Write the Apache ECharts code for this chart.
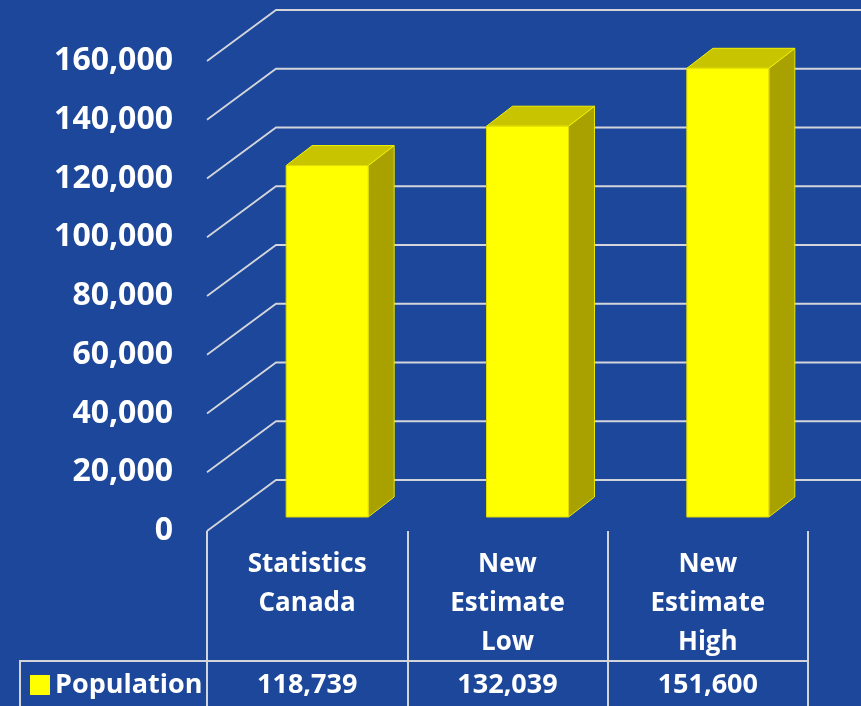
<!DOCTYPE html>
<html>
<head>
<meta charset="utf-8">
<script src="https://cdn.jsdelivr.net/npm/echarts@6/dist/echarts.min.js"></script>
<style>
  html, body { margin: 0; padding: 0; background: #1C479A; }
  #main { width: 861px; height: 706px; }
</style>
</head>
<body>
<div id="main"></div>
<script>
const categories = ['Statistics\nCanada', 'New\nEstimate\nLow', 'New\nEstimate\nHigh'];
const population = [118739, 132039, 151600];
const yTicks = [0, 20000, 40000, 60000, 80000, 100000, 120000, 140000, 160000];

const fmt = v => Number(v).toLocaleString('en-US');
const font = "'Open Sans', sans-serif";
const gridColor = '#D3D5DA';

let chart = echarts.init(document.getElementById('main'));

// depth of the walls and of the bars (oblique projection)
const wallDx = 69, wallDy = -51;
const barOffX = 20, barOffY = -14, barW = 82, barDx = 26, barDy = -20;

function renderWall(params, api) {
    const y = api.coord([0, api.value(1)])[1];
    const x0 = params.coordSys.x;
    return {
        type: 'polyline',
        shape: { points: [[x0, y], [x0 + wallDx, y + wallDy], [api.getWidth(), y + wallDy]] },
        style: { stroke: gridColor, lineWidth: 1.8, fill: null }
    };
}

function renderBar(params, api) {
    const idx = api.value(0);
    const base = api.coord([idx, 0]);
    const top = api.coord([idx, api.value(1)]);
    const x1 = base[0] + barOffX - barW / 2;
    const x2 = x1 + barW;
    const yb = base[1] + barOffY;
    const yt = top[1] + barOffY;
    return {
        type: 'group',
        children: [
            {
                type: 'polygon',
                shape: { points: [[x2, yt], [x2 + barDx, yt + barDy], [x2 + barDx, yb + barDy], [x2, yb]] },
                style: { fill: '#A8A100', stroke: '#E6E600', lineWidth: 1 }
            },
            {
                type: 'polygon',
                shape: { points: [[x1, yt], [x2, yt], [x2 + barDx, yt + barDy], [x1 + barDx, yt + barDy]] },
                style: { fill: '#C8C400', stroke: '#F2F200', lineWidth: 1 }
            },
            {
                type: 'rect',
                shape: { x: x1, y: yt, width: barW, height: yb - yt },
                style: { fill: '#FFFF00', stroke: '#E0DC00', lineWidth: 1 }
            }
        ]
    };
}

let option = {
    backgroundColor: '#1C479A',
    animation: false,
    grid: { left: 207, right: 53, top: 61, bottom: 175 },
    legend: {
        left: 25, top: 665,
        itemWidth: 20, itemHeight: 20,
        data: [{ name: 'Population', icon: 'rect' }],
        textStyle: { color: '#fff', fontFamily: font, fontWeight: 'bold', fontSize: 27, lineHeight: 30 }
    },
    xAxis: [
        {
            type: 'category',
            data: categories,
            axisLine: { show: false, onZero: false },
            axisTick: { show: true, length: 175, lineStyle: { color: gridColor, width: 2 } },
            axisLabel: {
                color: '#fff', fontFamily: font, fontWeight: 'bold', fontSize: 26,
                lineHeight: 39, margin: 14, interval: 0
            },
            splitLine: { show: false }
        },
        {
            type: 'category',
            data: categories,
            position: 'bottom',
            offset: 130,
            axisLine: { show: true, onZero: false, lineStyle: { color: gridColor, width: 2 } },
            axisTick: { show: false },
            axisLabel: {
                color: '#fff', fontFamily: font, fontWeight: 'bold', fontSize: 27,
                lineHeight: 30, margin: 9, interval: 0,
                formatter: (v, i) => fmt(population[i])
            }
        }
    ],
    yAxis: [
        {
            type: 'value',
            min: 0, max: 160000, interval: 20000,
            axisLine: { show: false },
            axisTick: { show: false },
            splitLine: { show: false },
            axisLabel: {
                color: '#fff', fontFamily: font, fontWeight: 'bold', fontSize: 32, margin: 34,
                formatter: v => fmt(v)
            }
        },
        { type: 'value', min: 0, max: 158800, show: false }
    ],
    graphic: [
        {
            type: 'polyline',
            shape: { points: [[20, 706], [20, 661], [208, 661]] },
            style: { stroke: gridColor, lineWidth: 2, fill: null }
        }
    ],
    series: [
        {
            name: 'walls',
            type: 'custom',
            renderItem: renderWall,
            encode: { x: 0, y: 1 },
            data: yTicks.map(v => [0, v]),
            silent: true,
            z: 1
        },
        {
            name: 'Population',
            type: 'custom',
            yAxisIndex: 1,
            renderItem: renderBar,
            itemStyle: { color: '#FFFF00' },
            encode: { x: 0, y: 1 },
            data: population.map((v, i) => [i, v]),
            z: 2
        }
    ]
};

chart.setOption(option);
window.addEventListener('resize', function () {
    chart.resize();
});
</script>
</body>
</html>
